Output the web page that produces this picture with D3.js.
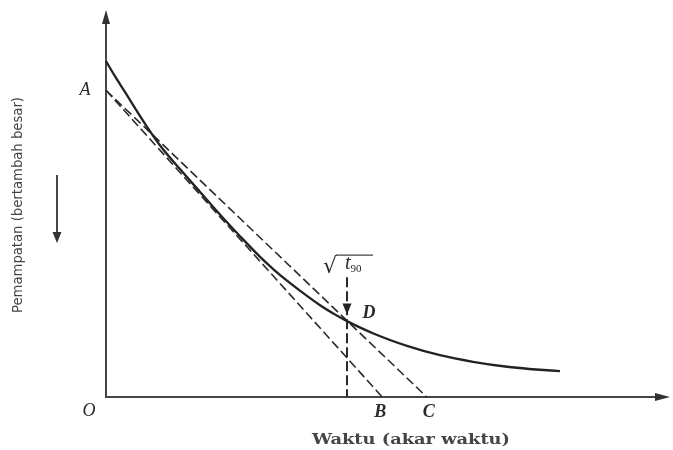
<!DOCTYPE html>
<html>
<head>
<meta charset="utf-8">
<script src="https://cdn.jsdelivr.net/npm/d3@7/dist/d3.min.js"></script>
<style>
  html, body { margin: 0; padding: 0; background: #fff; }
  svg { display: block; }
</style>
</head>
<body>
<svg id="chart" width="673" height="450"></svg>
<script>
// Settlement (Pemampatan) against square root of time: Taylor's method
const curveTime   = [0, 0.16, 0.35, 0.53, 0.71, 0.98, 1.34, 1.71, 2.07, 2.44, 2.80, 3.16, 3.53, 3.89, 4.38, 4.85, 5.47, 6.07, 6.67, 7.29, 8.25];
const curveReading = [6.11, 5.84, 5.54, 5.25, 4.97, 4.58, 4.15, 3.73, 3.32, 2.92, 2.55, 2.22, 1.93, 1.67, 1.38, 1.16, 0.93, 0.76, 0.64, 0.55, 0.47];

// Construction points
const interceptA = 5.58;   // corrected zero on the vertical axis
const timeB = 5.02;        // tangent line meets the time axis
const timeC = 5.83;        // second line meets the time axis
const pointD = [4.38, 1.39];
const t90Top = 2.18;       // top of the vertical guide under the √t90 label

const pointLabels = ["O", "A", "B", "C", "D"];
const xAxisTitle = "Waktu (akar waktu)";
const yAxisTitle = "Pemampatan (bertambah besar)";

const svg = d3.select("#chart");
const x = d3.scaleLinear().domain([0, 10.25]).range([106, 670]);
const y = d3.scaleLinear().domain([0, 7.04]).range([397, 10]);

const defs = svg.append("defs");
defs.append("filter").attr("id", "soft")
  .append("feGaussianBlur").attr("stdDeviation", 0.5);

const g = svg.append("g").attr("filter", "url(#soft)");
const ink = "#2a2a2a";

// Axes with arrowheads
g.append("line")
  .attr("x1", x(0)).attr("y1", y(0)).attr("x2", x(10.25) - 6).attr("y2", y(0))
  .attr("stroke", "#444").attr("stroke-width", 2);
g.append("line")
  .attr("x1", x(0)).attr("y1", y(0) + 1).attr("x2", x(0)).attr("y2", y(7.04) + 6)
  .attr("stroke", "#444").attr("stroke-width", 2);
g.append("path")
  .attr("d", `M${x(10.25)},${y(0)} l-15,-4 l0,8 z`)
  .attr("fill", "#333");
g.append("path")
  .attr("d", `M${x(0)},${y(7.04)} l-4,14 l8,0 z`)
  .attr("fill", "#333");

// Dashed construction lines from A to B and from A to C
[timeB, timeC].forEach(t => {
  g.append("line")
    .attr("x1", x(0)).attr("y1", y(interceptA))
    .attr("x2", x(t)).attr("y2", y(0))
    .attr("stroke", ink).attr("stroke-width", 1.6)
    .attr("stroke-dasharray", "9,4");
});

// Settlement curve
const line = d3.line()
  .x((d, i) => x(curveTime[i]))
  .y(d => y(d))
  .curve(d3.curveMonotoneX);
g.append("path")
  .attr("d", line(curveReading))
  .attr("fill", "none")
  .attr("stroke", "#222")
  .attr("stroke-width", 2.3);

// Vertical guide at √t90
g.append("line")
  .attr("x1", x(pointD[0])).attr("y1", y(t90Top))
  .attr("x2", x(pointD[0])).attr("y2", y(0))
  .attr("stroke", ink).attr("stroke-width", 2)
  .attr("stroke-dasharray", "10,4");
g.append("path")
  .attr("d", `M${x(pointD[0])},${y(pointD[1]) - 6} l-4.5,-11 l9,0 z`)
  .attr("fill", "#222");

// √t90 label
const lx = x(pointD[0]);
const ly = y(t90Top);
g.append("text")
  .attr("x", lx - 24).attr("y", ly - 4)
  .attr("font-family", "'DejaVu Serif', serif")
  .attr("font-size", 22).attr("fill", "#2a2a2a")
  .text("√");
g.append("line")
  .attr("x1", lx - 11).attr("y1", ly - 22).attr("x2", lx + 26).attr("y2", ly - 22)
  .attr("stroke", "#444").attr("stroke-width", 1.2);
const tl = g.append("text")
  .attr("x", lx - 2).attr("y", ly - 8)
  .attr("font-family", "'Liberation Serif', serif")
  .attr("font-style", "italic")
  .attr("font-size", 20).attr("fill", "#2a2a2a");
tl.append("tspan").text("t");
tl.append("tspan").attr("dy", 3).attr("font-size", 11).attr("font-style", "normal").text("90");

// Point letters
const serifItalic = (sel) => sel
  .attr("font-family", "'Liberation Serif', 'Times New Roman', serif")
  .attr("font-style", "italic")
  .attr("font-size", 18)
  .attr("fill", "#2a2a2a")
  .attr("text-anchor", "middle");

const letterPos = {
  O: [x(0) - 17, y(0) + 19],
  A: [x(0) - 21, y(interceptA) + 5],
  B: [x(timeB) - 2, y(0) + 20],
  C: [x(timeC) + 2, y(0) + 20],
  D: [x(pointD[0]) + 22, y(pointD[1]) - 3]
};
pointLabels.forEach(k => {
  g.append("text").call(serifItalic)
    .attr("x", letterPos[k][0]).attr("y", letterPos[k][1])
    .attr("font-weight", k === "A" || k === "O" ? "normal" : "bold")
    .text(k);
});

// Axis titles
g.append("text")
  .attr("x", 312).attr("y", 444)
  .attr("font-family", "'DejaVu Serif', serif")
  .attr("font-weight", "bold")
  .attr("font-size", 15).attr("fill", "#444")
  .attr("textLength", 198).attr("lengthAdjust", "spacingAndGlyphs")
  .text(xAxisTitle);

g.append("text")
  .attr("transform", "translate(22,313) rotate(-90)")
  .attr("font-family", "'Liberation Sans Narrow', 'DejaVu Sans Condensed', sans-serif")
  .attr("font-size", 14).attr("fill", "#444")
  .attr("textLength", 216).attr("lengthAdjust", "spacingAndGlyphs")
  .text(yAxisTitle);

// Direction arrow beside the vertical title
g.append("line")
  .attr("x1", 57).attr("y1", 175).attr("x2", 57).attr("y2", 234)
  .attr("stroke", "#333").attr("stroke-width", 1.8);
g.append("path")
  .attr("d", "M57,243 l-4.5,-11 l9,0 z")
  .attr("fill", "#333");
</script>
</body>
</html>
